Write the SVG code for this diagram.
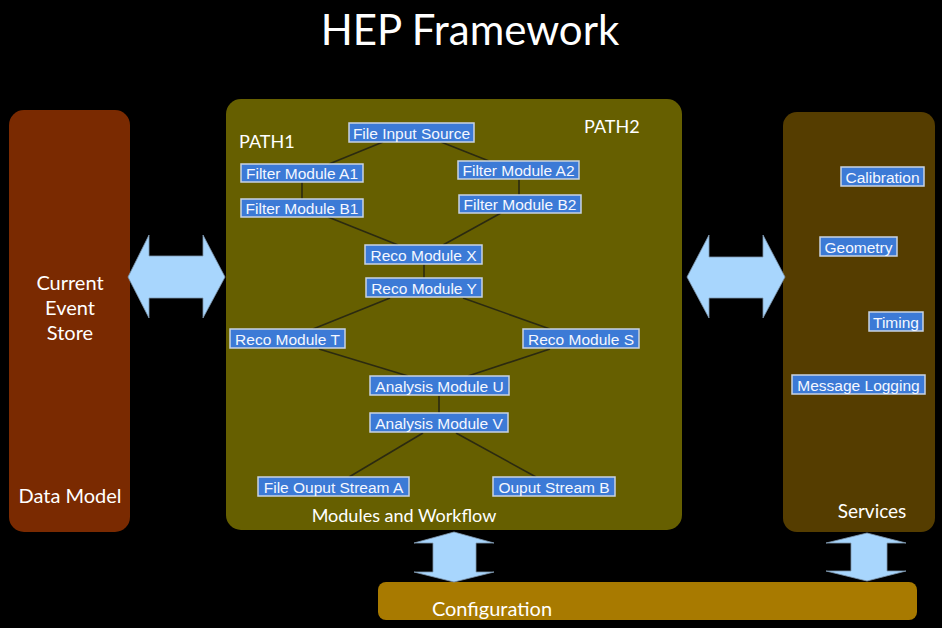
<svg xmlns="http://www.w3.org/2000/svg" width="942" height="628" viewBox="0 0 942 628">
<defs>
<style>
.lbl{font-family:Lato,"Open Sans","DejaVu Sans",sans-serif;fill:#ffffff}
.mod rect{fill:#3c7ad6;stroke:#c9d3e2;stroke-width:1.5}
.mod text{font-family:"Liberation Sans",Arial,sans-serif;font-size:15.5px;fill:#f4f7ff;text-anchor:middle}
.arrow{fill:#a8d6fd;stroke:#7f97ad;stroke-width:0.8}
#connectors line{stroke:#2b2a10;stroke-width:1.6}
</style>
</defs>
<rect x="0" y="0" width="942" height="628" fill="#000000"/>
<text class="lbl" x="470" y="45" font-size="42" text-anchor="middle">HEP Framework</text>

<g id="data-model">
<rect x="9" y="110" width="121" height="422" rx="15" fill="#7a2a01"/>
<text class="lbl" x="70" y="290" font-size="20" text-anchor="middle">Current</text>
<text class="lbl" x="70" y="315" font-size="20" text-anchor="middle">Event</text>
<text class="lbl" x="70" y="340" font-size="20" text-anchor="middle">Store</text>
<text class="lbl" x="70" y="503" font-size="20" text-anchor="middle">Data Model</text>
</g>

<g id="modules-workflow">
<rect x="226" y="99" width="456" height="431" rx="15" fill="#665f00"/>
<text class="lbl" x="239" y="148" font-size="18">PATH1</text>
<text class="lbl" x="584" y="133" font-size="18">PATH2</text>
<text class="lbl" x="404" y="522" font-size="18" text-anchor="middle">Modules and Workflow</text>
</g>

<g id="services">
<rect x="783" y="112" width="152" height="420" rx="14" fill="#553d00"/>
<text class="lbl" x="872" y="518" font-size="19" text-anchor="middle">Services</text>
</g>

<g id="configuration">
<rect x="378" y="582" width="539" height="38" rx="8" fill="#a87a00"/>
<text class="lbl" x="492" y="616" font-size="20" text-anchor="middle">Configuration</text>
</g>

<g id="arrows">
<polygon class="arrow" points="128,277 149,235 149,256 203,256 203,235 225,277 203,318 203,298 149,298 149,318"/>
<polygon class="arrow" points="687,277 709,235 709,257 763,257 763,235 785,277 763,318 763,298 709,298 709,318"/>
<polygon class="arrow" points="454,532 494,543 476,543 476,572 494,572 454,582 414,572 433,572 433,543 414,543"/>
<polygon class="arrow" points="867,533 906,543 887,543 887,571 906,571 867,581 826,571 851,571 851,543 826,543"/>
</g>

<g id="connectors">
<line x1="383" y1="142" x2="329" y2="164"/>
<line x1="441" y1="142" x2="489" y2="161"/>
<line x1="302" y1="182" x2="302" y2="199"/>
<line x1="519" y1="179" x2="519" y2="195"/>
<line x1="328" y1="217" x2="398" y2="245"/>
<line x1="501" y1="213" x2="443" y2="245"/>
<line x1="424" y1="264" x2="424" y2="278"/>
<line x1="390" y1="298" x2="313" y2="329"/>
<line x1="463" y1="298" x2="550" y2="329"/>
<line x1="319" y1="349" x2="408" y2="376"/>
<line x1="550" y1="349" x2="468" y2="376"/>
<line x1="439" y1="396" x2="439" y2="413"/>
<line x1="423" y1="433" x2="349" y2="477"/>
<line x1="456" y1="433" x2="536" y2="477"/>
</g>

<g id="file-input-source" class="mod"><rect x="349" y="123" width="125" height="19"/><text x="411.5" y="138.5">File Input Source</text></g>
<g id="filter-a1" class="mod"><rect x="241" y="164" width="122" height="18"/><text x="302" y="179">Filter Module A1</text></g>
<g id="filter-a2" class="mod"><rect x="458" y="161" width="121" height="18"/><text x="518.5" y="176">Filter Module A2</text></g>
<g id="filter-b1" class="mod"><rect x="241" y="199" width="122" height="18"/><text x="302" y="214">Filter Module B1</text></g>
<g id="filter-b2" class="mod"><rect x="459" y="195" width="122" height="18"/><text x="520" y="210">Filter Module B2</text></g>
<g id="reco-x" class="mod"><rect x="365" y="245" width="117" height="19"/><text x="423.5" y="260.5">Reco Module X</text></g>
<g id="reco-y" class="mod"><rect x="366" y="278" width="116" height="19"/><text x="424" y="293.5">Reco Module Y</text></g>
<g id="reco-t" class="mod"><rect x="230" y="329" width="115" height="19"/><text x="287.5" y="344.5">Reco Module T</text></g>
<g id="reco-s" class="mod"><rect x="523" y="329" width="116" height="19"/><text x="581" y="344.5">Reco Module S</text></g>
<g id="analysis-u" class="mod"><rect x="370" y="376" width="139" height="19"/><text x="439.5" y="391.5">Analysis Module U</text></g>
<g id="analysis-v" class="mod"><rect x="370" y="413" width="138" height="19"/><text x="439" y="428.5">Analysis Module V</text></g>
<g id="file-output-a" class="mod"><rect x="258" y="477" width="151" height="19"/><text x="333.5" y="492.5">File Ouput Stream A</text></g>
<g id="output-b" class="mod"><rect x="493" y="477" width="122" height="19"/><text x="554" y="492.5">Ouput Stream B</text></g>

<g id="calibration" class="mod"><rect x="841" y="167" width="83" height="19"/><text x="882.5" y="182.5">Calibration</text></g>
<g id="geometry" class="mod"><rect x="820" y="237" width="77" height="19"/><text x="858.5" y="252.5">Geometry</text></g>
<g id="timing" class="mod"><rect x="869" y="312" width="54" height="19"/><text x="896" y="327.5">Timing</text></g>
<g id="message-logging" class="mod"><rect x="792" y="375" width="133" height="19"/><text x="858.5" y="390.5">Message Logging</text></g>
</svg>
